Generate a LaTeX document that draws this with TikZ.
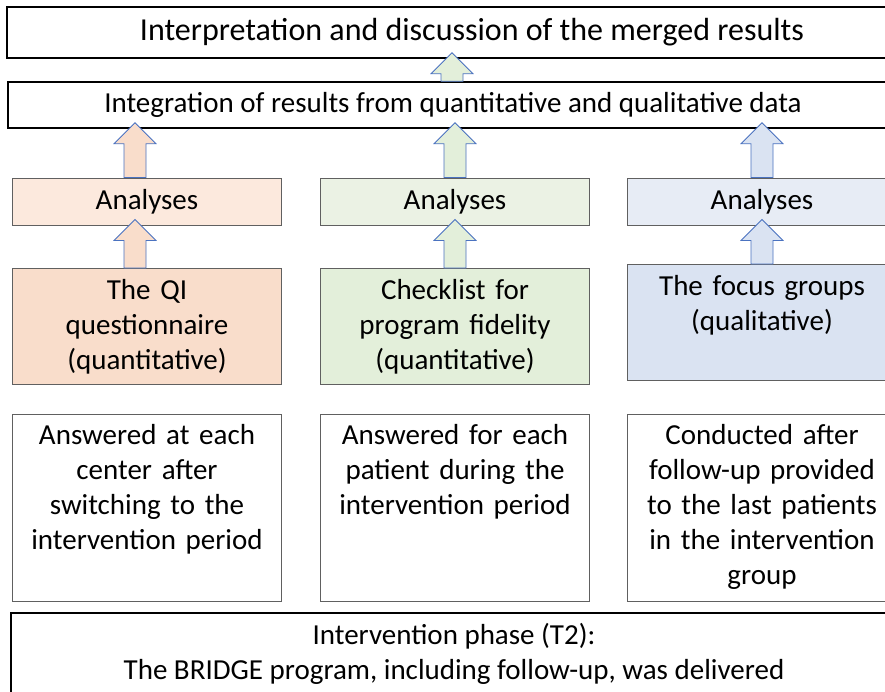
\documentclass[tikz,border=0pt]{standalone}
\usepackage{fontspec}
\setmainfont{Carlito}
\usepackage{tikz}
\usetikzlibrary{calc,positioning}

\definecolor{peachlt}{HTML}{FCE9DD}
\definecolor{peach}{HTML}{F9DDCB}
\definecolor{sagelt}{HTML}{EBF2E4}
\definecolor{sage}{HTML}{E3EFDA}
\definecolor{skylt}{HTML}{E7ECF5}
\definecolor{sky}{HTML}{DAE3F2}
\definecolor{arrowblue}{HTML}{4A72C0}
\definecolor{boxgrey}{HTML}{606060}

\tikzset{
  widebox/.style={draw=black, line width=1.5pt, inner sep=0pt},
  anbox/.style={draw=boxgrey, line width=1pt, minimum width=269pt, minimum height=47pt},
  srcbox/.style={draw=boxgrey, line width=1pt, minimum width=269pt, anchor=north,
    text width=259pt, align=center, inner ysep=4pt, text height=27pt, text depth=81pt},
  notebox/.style={srcbox, fill=white, text height=26pt, text depth=153pt},
  blockup/.style={draw=arrowblue, line width=0.8pt, line join=miter,
    to path={let \p1=(\tikztostart), \p2=(\tikztotarget) in
      (\x1-11pt,\y1) -- (\x1-11pt,\y2-15pt) -- (\x1-21pt,\y2-15pt) -- (\x1,\y2+6pt)
      -- (\x1+21pt,\y2-15pt) -- (\x1+11pt,\y2-15pt) -- (\x1+11pt,\y1) -- cycle}}
}

\begin{document}
\begin{tikzpicture}[x=1pt, y=-1pt, font=\fontsize{29}{35}\selectfont]
    \useasboundingbox[fill=white] (0,0) rectangle (885,691);

    \node[widebox, minimum width=930pt, minimum height=51pt, font=\fontsize{32}{38}\selectfont] (merge) at (472,32.5)
        {Interpretation and discussion of the merged results};
    \node[widebox, minimum width=890pt, minimum height=46pt] (integ) at (453,105)
        {Integration of results from quantitative and qualitative data};

    \node[anbox, fill=peachlt] (anqi) at (147,201.5) {Analyses};
    \node[anbox, fill=sagelt] (anchk) at (455,201.5) {Analyses};
    \node[anbox, fill=skylt] (anfoc) at (762,201.5) {Analyses};

    \node[srcbox, fill=peach] (qi) at (147,268) {The QI\\questionnaire\\(quantitative)};
    \node[srcbox, fill=sage] (chk) at (455,268) {Checklist for\\program fidelity\\(quantitative)};
    \node[srcbox, fill=sky] (foc) at (762,264) {The focus groups\\(qualitative)};

    \node[notebox] (wqi) at (147,414)
        {Answered at each\\center after\\switching to the\\intervention period};
    \node[notebox] (wchk) at (455,414)
        {Answered for each\\patient during the\\intervention period};
    \node[notebox] (wfoc) at (762,414)
        {Conducted after\\follow-up provided\\to the last patients\\in the intervention\\group};

    \node[widebox, minimum width=886pt, minimum height=81pt, align=center] (phase) at (454,653.5)
        {Intervention phase (T2):\\The BRIDGE program, including follow-up, was delivered};

    \draw[blockup, fill=peach] ([xshift=-12pt]qi.north) to (anqi.south);
    \draw[blockup, fill=sage] (chk.north) to (anchk.south);
    \draw[blockup, fill=sky] (foc.north) to (anfoc.south);
    \draw[blockup, fill=peach] ([xshift=-12pt]anqi.north) to (integ.south);
    \draw[blockup, fill=sage] (anchk.north) to (integ.south);
    \draw[blockup, fill=sky] (anfoc.north) to (integ.south);
    \draw[blockup, fill=sage] ([xshift=-1pt]integ.north) to (merge.south);
\end{tikzpicture}
\end{document}
